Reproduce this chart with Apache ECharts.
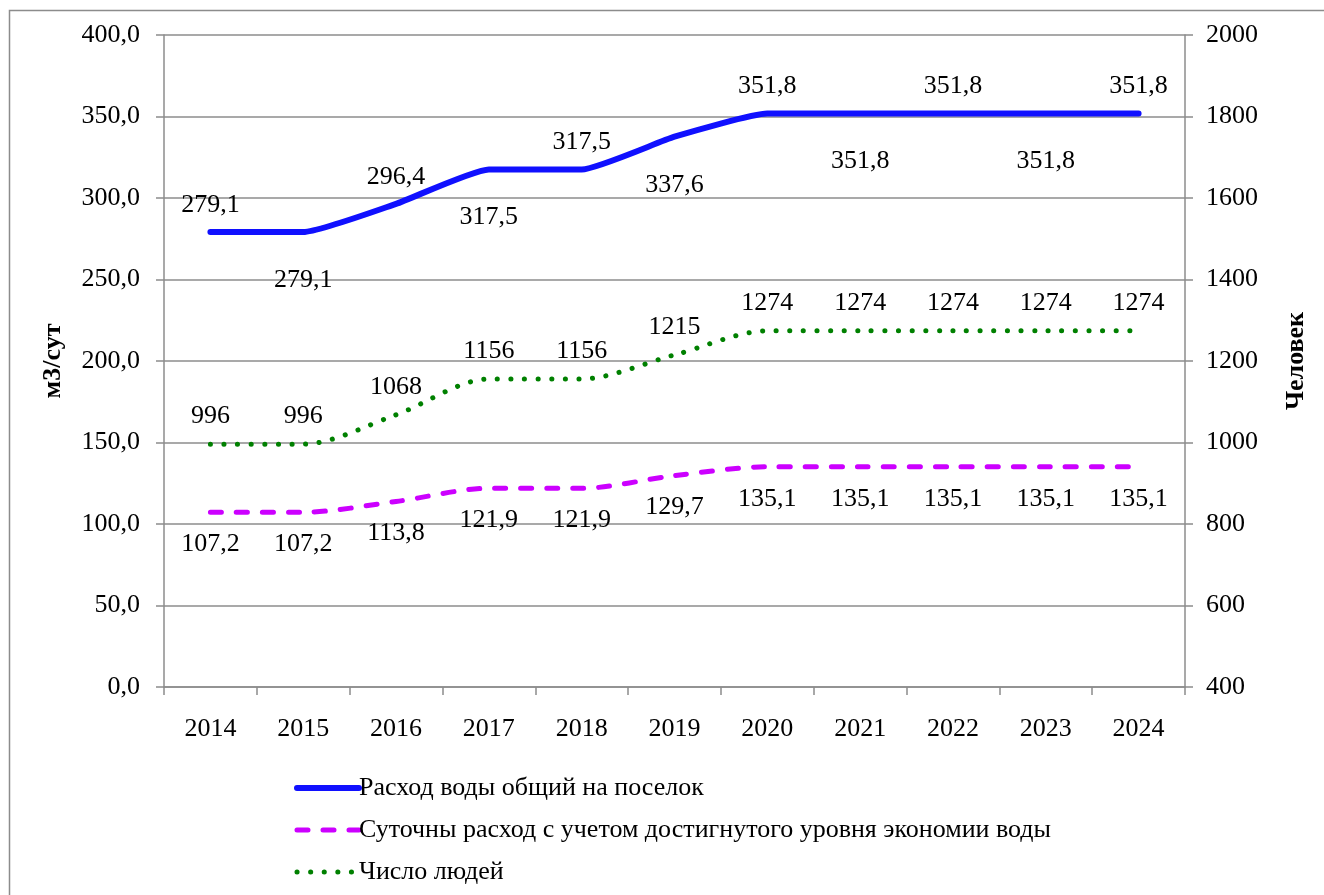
<!DOCTYPE html>
<html>
<head>
<meta charset="utf-8">
<script src="https://cdn.jsdelivr.net/npm/echarts@6/dist/echarts.min.js"></script>
<style>
  html, body { margin: 0; padding: 0; background: #fff; }
  #chart { width: 1324px; height: 895px; }
</style>
</head>
<body>
<div id="chart"></div>
<script>
// данные
var years = ['2014', '2015', '2016', '2017', '2018', '2019', '2020', '2021', '2022', '2023', '2024'];
var totalFlow = [279.1, 279.1, 296.4, 317.5, 317.5, 337.6, 351.8, 351.8, 351.8, 351.8, 351.8];
var dailyFlow = [107.2, 107.2, 113.8, 121.9, 121.9, 129.7, 135.1, 135.1, 135.1, 135.1, 135.1];
var people = [996, 996, 1068, 1156, 1156, 1215, 1274, 1274, 1274, 1274, 1274];

var seriesNames = [
  'Расход воды общий на поселок',
  'Суточны расход с учетом достигнутого уровня экономии воды',
  'Число людей'
];

var FONT = 'Liberation Serif';
var FS = 26;
var comma1 = function (v) { return v.toFixed(1).replace('.', ','); };

// синяя линия: подписи чередуются сверху/снизу
var totalData = totalFlow.map(function (v, i) {
  var up = i % 2 === 0;
  return {
    value: v,
    label: { position: up ? 'top' : 'bottom', distance: up ? 14 : 35 }
  };
});

var myChart = echarts.init(document.getElementById('chart'));
var option = {
  backgroundColor: '#fff',
  animation: false,
  textStyle: { fontFamily: FONT },
  graphic: [{
    type: 'rect',
    shape: { x: 9.5, y: 10.5, width: 1400, height: 1000 },
    style: { fill: 'none', stroke: '#8c8c8c', lineWidth: 1.5 },
    silent: true
  }],
  grid: { left: 164, right: 139, top: 35, bottom: 208 },
  legend: {
    orient: 'vertical',
    left: 289,
    top: 770,
    itemWidth: 62,
    itemHeight: 14,
    itemGap: 16,
    lineStyle: { width: 'inherit', type: 'inherit', cap: 'round' },
    itemStyle: { opacity: 0 },
    textStyle: { fontFamily: FONT, fontSize: FS, color: '#000', padding: [0, 0, 0, -5] },
    data: seriesNames
  },
  xAxis: {
    type: 'category',
    data: years,
    boundaryGap: true,
    axisLine: { lineStyle: { color: '#8c8c8c', width: 1.5 } },
    axisTick: { show: true, length: 8, lineStyle: { color: '#8c8c8c', width: 1.5 } },
    axisLabel: { fontFamily: FONT, fontSize: FS, color: '#000', margin: 29 },
    splitLine: { show: false }
  },
  yAxis: [{
    type: 'value',
    min: 0, max: 400, interval: 50,
    name: 'м3/сут',
    nameLocation: 'middle',
    nameRotate: 90,
    nameGap: 98,
    nameTextStyle: { fontFamily: FONT, fontSize: FS, fontWeight: 'bold', color: '#000' },
    axisLine: { show: true, lineStyle: { color: '#8c8c8c', width: 1.5 } },
    axisTick: { show: true, length: 8, lineStyle: { color: '#8c8c8c', width: 1.5 } },
    axisLabel: { fontFamily: FONT, fontSize: FS, color: '#000', margin: 24, formatter: comma1 },
    splitLine: { lineStyle: { color: '#8c8c8c', width: 1.5 } }
  }, {
    type: 'value',
    position: 'right',
    min: 400, max: 2000, interval: 200,
    name: 'Человек',
    nameLocation: 'middle',
    nameRotate: 90,
    nameGap: 98,
    nameTextStyle: { fontFamily: FONT, fontSize: FS, fontWeight: 'bold', color: '#000' },
    axisLine: { show: true, lineStyle: { color: '#8c8c8c', width: 1.5 } },
    axisTick: { show: true, length: 8, lineStyle: { color: '#8c8c8c', width: 1.5 } },
    axisLabel: { fontFamily: FONT, fontSize: FS, color: '#000', margin: 21, formatter: function (v) { return String(v); } },
    splitLine: { show: false }
  }],
  series: [{
    name: seriesNames[0],
    type: 'line',
    yAxisIndex: 0,
    data: totalData,
    smooth: 0.15,
    symbol: 'circle',
    symbolSize: 0.1,
    lineStyle: { color: '#1010ff', width: 6, cap: 'round', join: 'round' },
    itemStyle: { color: '#1010ff' },
    label: { show: true, fontFamily: FONT, fontSize: FS, color: '#000', formatter: function (p) { return comma1(p.value); } },
    z: 3
  }, {
    name: seriesNames[1],
    type: 'line',
    yAxisIndex: 0,
    data: dailyFlow,
    smooth: 0.3,
    symbol: 'circle',
    symbolSize: 0.1,
    lineStyle: { color: '#cc00ff', width: 5, type: [11, 15], cap: 'round' },
    itemStyle: { color: '#cc00ff' },
    label: { show: true, position: 'bottom', distance: 19, fontFamily: FONT, fontSize: FS, color: '#000', formatter: function (p) { return comma1(p.value); } }
  }, {
    name: seriesNames[2],
    type: 'line',
    yAxisIndex: 1,
    data: people,
    smooth: 0.3,
    symbol: 'circle',
    symbolSize: 0.1,
    lineStyle: { color: '#008000', width: 5, type: [0.1, 13.5], cap: 'round' },
    itemStyle: { color: '#008000' },
    label: { show: true, position: 'top', distance: 15, fontFamily: FONT, fontSize: FS, color: '#000' }
  }]
};
myChart.setOption(option);
</script>
</body>
</html>
